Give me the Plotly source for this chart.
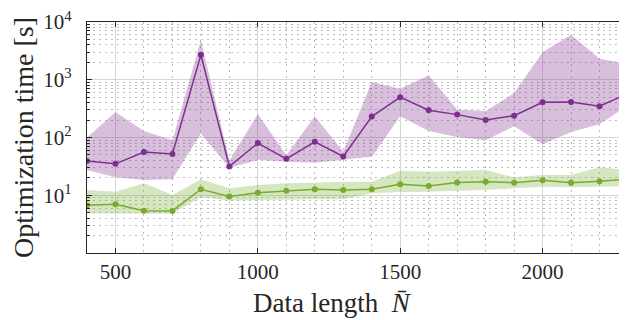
import plotly.graph_objects as go

N = [400, 500, 600, 700, 800, 900, 1000, 1100, 1200, 1300,
     1400, 1500, 1600, 1700, 1800, 1900, 2000, 2100, 2200, 2300]

purple_mid = [39, 35, 56, 52, 2700, 31.6, 80, 42.7, 84, 47,
              230, 500, 296, 249, 201, 239, 406, 411, 347, 580]
purple_hi = [100, 276, 130, 90, 4900, 40, 255, 49.5, 233, 56.5,
             910, 700, 1186, 304, 288, 587, 2990, 6040, 2300, 1890]
purple_lo = [27.3, 20.4, 18.4, 18.9, 117, 29.5, 41, 37.9, 36.5, 40.6,
             46.3, 233, 130, 102, 89.8, 157, 76.6, 125, 169, 360]

green_mid = [6.7, 7.0, 5.4, 5.35, 12.7, 9.5, 11.1, 12.0, 12.7, 12.3,
             12.7, 15.5, 14.5, 16.7, 17.1, 16.5, 18.1, 16.5, 17.4, 19.1]
green_hi = [12.3, 11.5, 16.1, 10.1, 18.9, 13.2, 15.0, 16.1, 16.5, 17.1,
            17.1, 26.5, 25.5, 26.5, 27.3, 20.4, 22.4, 22.4, 30.4, 27.3]
green_lo = [4.9, 4.9, 4.9, 4.8, 9.2, 8.1, 8.3, 8.5, 8.5, 8.5,
            10.8, 11.4, 11.5, 12.0, 12.3, 13.2, 14.1, 13.8, 14.1, 14.5]

ytick_vals = [1, 10, 100, 1000, 10000]
ytick_text = ["", "10<sup>1</sup>", "10<sup>2</sup>", "10<sup>3</sup>", "10<sup>4</sup>"]

x_title = "Data length  <i>N̄</i>"
y_title = "Optimization time [s]"

PURPLE = "#7E2F8E"
GREEN = "#77AC30"
PURPLE_FILL = "rgba(126,47,142,0.30)"
GREEN_FILL = "rgba(119,172,48,0.30)"
AXC = "#262626"

fig = go.Figure()

def band(x, hi, lo, fill):
    fig.add_trace(go.Scatter(x=x, y=hi, mode="lines", line=dict(width=0),
                             showlegend=False, hoverinfo="skip"))
    fig.add_trace(go.Scatter(x=x, y=lo, mode="lines", line=dict(width=0),
                             fill="tonexty", fillcolor=fill,
                             showlegend=False, hoverinfo="skip"))

band(N, purple_hi, purple_lo, PURPLE_FILL)
band(N, green_hi, green_lo, GREEN_FILL)

fig.add_trace(go.Scatter(x=N, y=purple_mid, mode="lines+markers",
                         line=dict(color=PURPLE, width=1.5),
                         marker=dict(color=PURPLE, size=6), showlegend=False))
fig.add_trace(go.Scatter(x=N, y=green_mid, mode="lines+markers",
                         line=dict(color=GREEN, width=1.5),
                         marker=dict(color=GREEN, size=6), showlegend=False))

font_family = "Liberation Serif, DejaVu Serif, serif"

fig.update_layout(
    width=627, height=320,
    margin=dict(l=79, r=7, t=14, b=75),
    paper_bgcolor="white", plot_bgcolor="white",
    font=dict(family=font_family, color=AXC, size=21),
    showlegend=False,
)

fig.update_xaxes(
    range=[400, 2300], automargin=False,
    tickmode="linear", tick0=500, dtick=500,
    ticks="inside", ticklen=5, tickcolor=AXC,
    showline=True, linecolor=AXC, linewidth=1.2, mirror="ticks",
    showgrid=True, gridcolor="#d6d6d6", gridwidth=1,
    minor=dict(tickmode="linear", tick0=400, dtick=100, showgrid=True,
               gridcolor="#bdbdbd", griddash="2px,4px", gridwidth=1, ticks=""),
    zeroline=False,
    tickfont=dict(size=21),
)

fig.add_annotation(
    text=x_title, xref="paper", yref="paper",
    x=0.453, y=-0.2165, xanchor="center", yanchor="middle",
    showarrow=False, font=dict(size=27, family=font_family, color=AXC),
)

fig.update_yaxes(
    type="log", range=[0, 4], automargin=False,
    tickmode="array", tickvals=ytick_vals, ticktext=ytick_text,
    ticks="inside", ticklen=5, tickcolor=AXC, ticklabelstandoff=10,
    ticklabeloverflow="allow",
    showline=True, linecolor=AXC, linewidth=1.2, mirror="ticks",
    showgrid=True, gridcolor="#d6d6d6", gridwidth=1,
    minor=dict(tickmode="linear", dtick="D1", ticks="inside", ticklen=3,
               tickcolor=AXC, showgrid=True, gridcolor="#bdbdbd",
               griddash="2px,4px", gridwidth=1),
    zeroline=False,
    title=dict(text=y_title, font=dict(size=28), standoff=10),
    tickfont=dict(size=21),
)

fig.write_html("out.html")
